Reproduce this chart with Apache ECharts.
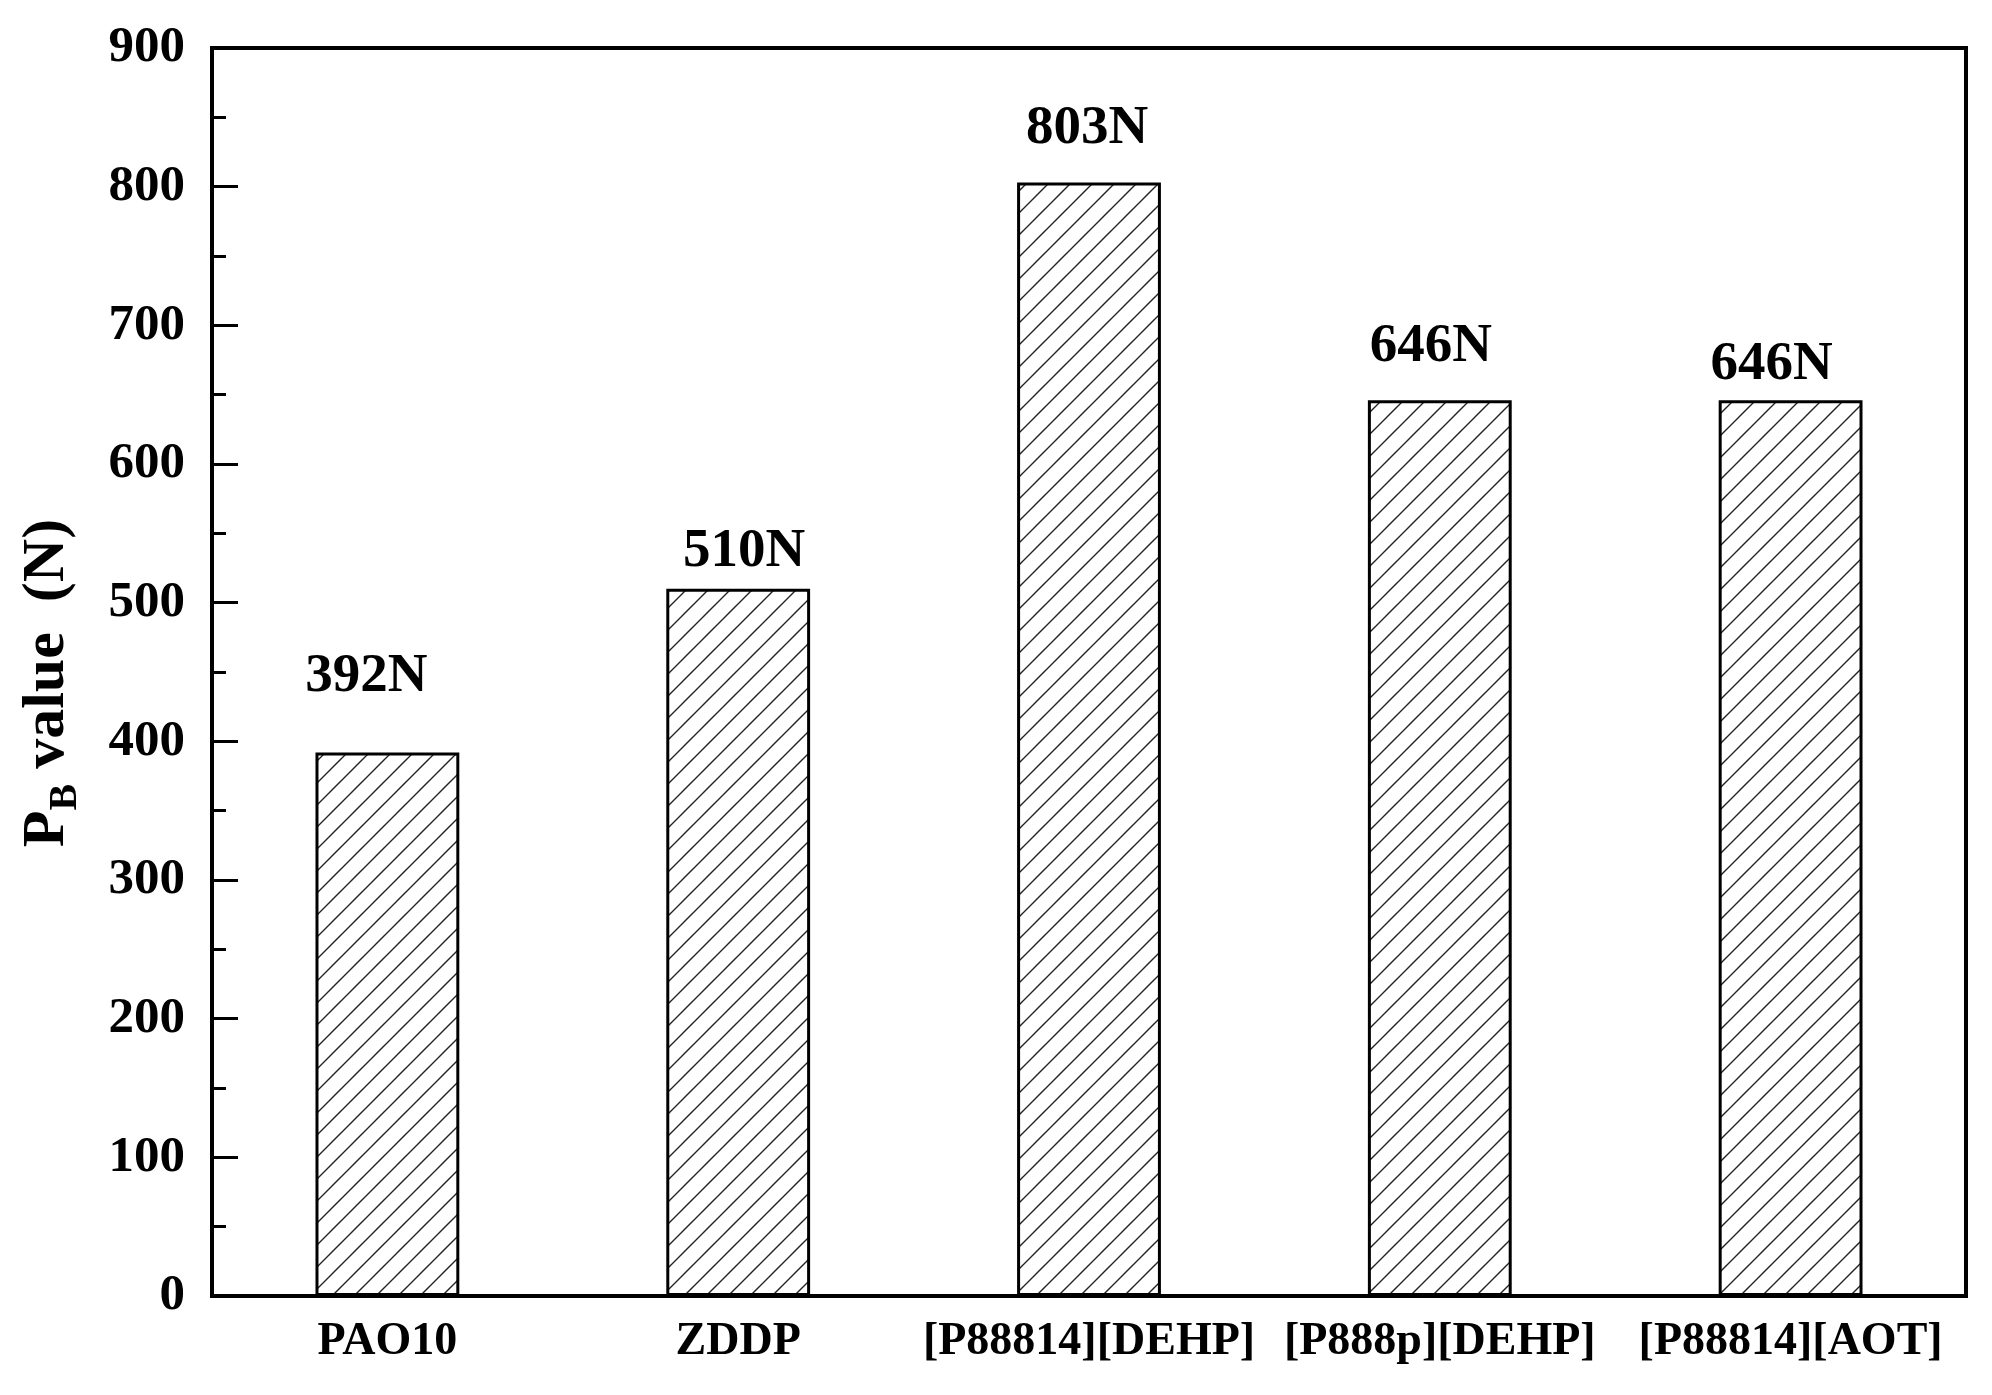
<!DOCTYPE html>
<html>
<head>
<meta charset="utf-8">
<script src="https://cdn.jsdelivr.net/npm/echarts@6/dist/echarts.min.js"></script>
<style>
html,body{margin:0;padding:0;background:#fff;}
#chart{width:1992px;height:1395px;}
</style>
</head>
<body>
<div id="chart"></div>
<script>
const categories = ['PAO10', 'ZDDP', '[P88814][DEHP]', '[P888p][DEHP]', '[P88814][AOT]'];
const pbValues = [392, 510, 803, 646, 646];
const valueLabels = ['392N', '510N', '803N', '646N', '646N'];
const yTicks = [0, 100, 200, 300, 400, 500, 600, 700, 800, 900];

// label placement tweaks (layout only)
const labelDistance = [48, 10, 26, 26, 8];
const labelDx = [-21, 6, -2, -9, -19];

const FONT = '"Liberation Serif", "Times New Roman", serif';

function hatch() {
  const s = 22;
  const c = document.createElement('canvas');
  c.width = s; c.height = s;
  const g = c.getContext('2d');
  g.fillStyle = '#fff';
  g.fillRect(0, 0, s, s);
  g.strokeStyle = '#222';
  g.lineWidth = 1.4;
  g.beginPath();
  g.moveTo(-2, s + 2); g.lineTo(s + 2, -2);
  g.moveTo(-2, 2); g.lineTo(2, -2);
  g.moveTo(s - 2, s + 2); g.lineTo(s + 2, s - 2);
  g.stroke();
  return c;
}

const chart = echarts.init(document.getElementById('chart'));
chart.setOption({
  backgroundColor: '#fff',
  animation: false,
  grid: {
    left: 212, right: 26, top: 48, bottom: 99,
    containLabel: false, outerBoundsMode: 'none',
    show: true, borderColor: '#000', borderWidth: 4, backgroundColor: 'transparent'
  },
  xAxis: {
    type: 'category',
    data: categories,
    axisLine: { lineStyle: { color: '#000', width: 4 } },
    axisTick: { show: false },
    axisLabel: {
      color: '#000', fontFamily: FONT, fontWeight: 'bold', fontSize: 46,
      lineHeight: 46, margin: 23, interval: 0
    },
    splitLine: { show: false }
  },
  yAxis: {
    type: 'value',
    min: yTicks[0], max: yTicks[yTicks.length - 1], interval: 100,
    axisLine: { show: true, lineStyle: { color: '#000', width: 4 } },
    axisTick: { show: true, inside: true, length: 26, lineStyle: { color: '#000', width: 3 } },
    minorTick: { show: true, splitNumber: 2, length: 14, lineStyle: { color: '#000', width: 3 } },
    axisLabel: {
      color: '#000', fontFamily: FONT, fontWeight: 'bold', fontSize: 51, margin: 27,
      formatter: v => String(v)
    },
    splitLine: { show: false },
    name: '{p|P}{b|B}{p| value  (N)}',
    nameLocation: 'middle',
    nameGap: 126,
    nameRotate: 90,
    nameTextStyle: {
      padding: [0, 22, 0, 0],
      rich: {
        p: { fontFamily: FONT, fontWeight: 'bold', fontSize: 60, lineHeight: 78, color: '#000' },
        b: { fontFamily: FONT, fontWeight: 'bold', fontSize: 40, lineHeight: 32, verticalAlign: 'bottom', color: '#000' }
      }
    }
  },
  series: [{
    type: 'bar',
    barWidth: '41%',
    data: pbValues.map((v, i) => ({
      value: v,
      label: { distance: labelDistance[i], offset: [labelDx[i], 0], formatter: valueLabels[i] }
    })),
    itemStyle: {
      color: { image: hatch(), repeat: 'repeat' },
      borderColor: '#000', borderWidth: 3
    },
    label: {
      show: true, position: 'top', color: '#000',
      fontFamily: FONT, fontWeight: 'bold', fontSize: 55, lineHeight: 55
    },
    emphasis: { disabled: true }
  }]
});
</script>
</body>
</html>
